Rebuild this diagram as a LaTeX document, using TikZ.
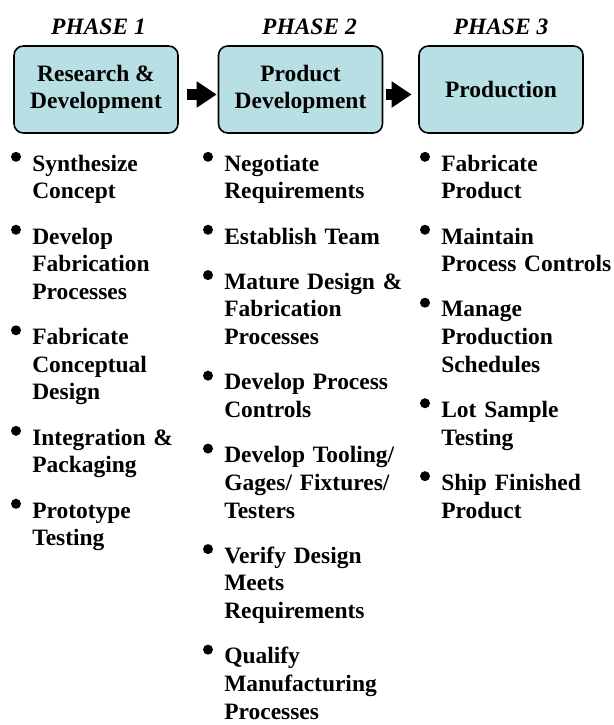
\documentclass[tikz,border=0pt]{standalone}
\usepackage{fontspec}
\setmainfont{Liberation Serif}
\usepackage{xcolor}
\usepackage{tikz}
\usetikzlibrary{positioning,arrows.meta}
\definecolor{stagefill}{RGB}{184,224,228}

\begin{document}
\begin{tikzpicture}[x=0.75pt,y=0.75pt,
    heading/.style={font=\fontsize{17.6}{20.7}\selectfont\bfseries\itshape, anchor=base, inner sep=0pt},
    stagebox/.style={draw, line width=1.2pt, fill=stagefill, rounded corners=7pt,
        minimum width=123pt, minimum height=65.25pt, align=center,
        font=\fontsize{17.6}{20.3}\selectfont\bfseries},
    task/.style={anchor=north west, inner sep=0pt, text width=150pt, align=left,
        font=\fontsize{17.6}{20.7}\selectfont\bfseries,
        execute at begin node=\strut, execute at end node=\strut},
    blockarrow/.style={line width=8.25pt, -{Triangle[length=15pt,width=18.75pt]}}]

    \useasboundingbox (0,0) rectangle (614,-725);

    % Phase headings
    \node[heading] (h1) at (98.5,-34) {PHASE 1};
    \node[heading] (h2) at (309.5,-34) {PHASE 2};
    \node[heading] (h3) at (501,-34) {PHASE 3};

    % Stage boxes
    \node[stagebox] (rd) at (96,-89.5) {Research \&\\Development};
    \node[stagebox] (pd) at (300.5,-89.5) {Product\\Development};
    \node[stagebox] (pr) at (501,-89.5) {Production};

    % Arrows between stages
    \draw[blockarrow] ([xshift=6pt,yshift=-3.75pt]rd.east) -- ([xshift=-0.75pt,yshift=-3.75pt]pd.west);
    \draw[blockarrow] ([xshift=2.25pt,yshift=-3.75pt]pd.east) -- ([xshift=-4.9pt,yshift=-3.75pt]pr.west);

    % Phase 1 tasks
    \node[task] (a1) at (32,-151.5) {Synthesize\\Concept};
    \node[task, below=12.9pt of a1] (a2) {Develop\\Fabrication\\Processes};
    \node[task, below=12.9pt of a2] (a3) {Fabricate\\Conceptual\\Design};
    \node[task, below=12.9pt of a3] (a4) {Integration \&\\Packaging};
    \node[task, below=12.9pt of a4] (a5) {Prototype\\Testing};

    % Phase 2 tasks
    \node[task] (b1) at (224,-151.5) {Negotiate\\Requirements};
    \node[task, below=12.9pt of b1] (b2) {Establish Team};
    \node[task, below=12.9pt of b2] (b3) {Mature Design \&\\Fabrication\\Processes};
    \node[task, below=12.9pt of b3] (b4) {Develop Process\\Controls};
    \node[task, below=12.9pt of b4] (b5) {Develop Tooling/\\Gages/ Fixtures/\\Testers};
    \node[task, below=12.9pt of b5] (b6) {Verify Design\\Meets\\Requirements};
    \node[task, below=12.9pt of b6] (b7) {Qualify\\Manufacturing\\Processes};

    % Phase 3 tasks
    \node[task] (c1) at (441,-151.5) {Fabricate\\Product};
    \node[task, below=12.9pt of c1] (c2) {Maintain\\Process Controls};
    \node[task, below=12.9pt of c2] (c3) {Manage\\Production\\Schedules};
    \node[task, below=12.9pt of c3] (c4) {Lot Sample\\Testing};
    \node[task, below=12.9pt of c4] (c5) {Ship Finished\\Product};

    % Bullets
    \foreach \t in {a1,a2,a3,a4,a5,b1,b2,b3,b4,b5,b6,b7,c1,c2,c3,c4,c5} {
        \fill ([xshift=-12pt,yshift=-4pt]\t.north west) circle (3.75pt);
    }
\end{tikzpicture}
\end{document}
